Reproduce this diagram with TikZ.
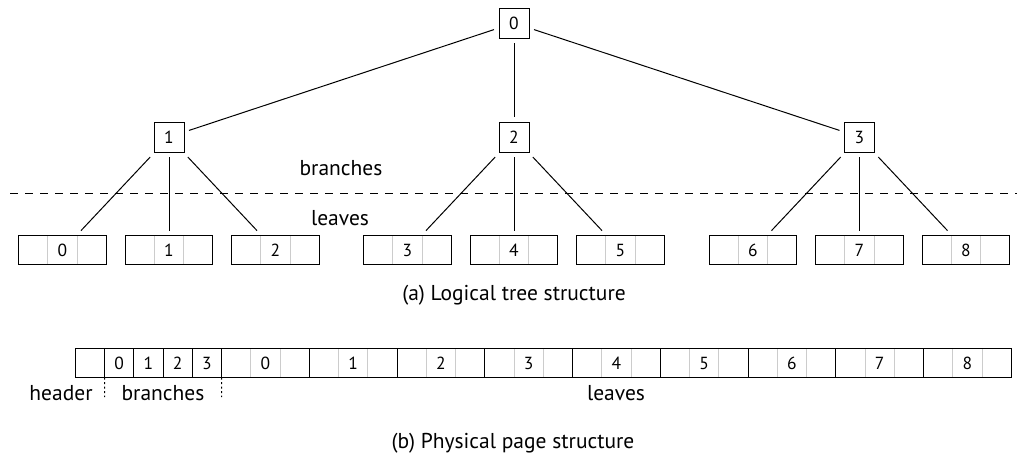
\documentclass[tikz,border=0pt]{standalone}
\usepackage{fontspec}
\setmainfont{PT Sans}
\newcommand{\txtfont}{\fontsize{21.5}{26}\selectfont}
\newcommand{\numfont}{\fontsize{17.5}{21}\selectfont}
\begin{document}
\begin{tikzpicture}[x=1pt,y=-1pt,
  every node/.style={inner sep=0pt},
  edge/.style={line width=1pt},
  bnode/.style={draw, line width=1pt, minimum width=30pt, minimum height=30pt, outer sep=5pt, font=\numfont},
  cell/.style={draw, line width=1pt, minimum width=29.25pt, minimum height=29.3pt, outer sep=0pt, font=\numfont},
  leafbox/.style={draw, line width=1pt, minimum width=87.75pt, minimum height=29.3pt, font=\numfont,
    path picture={\draw[black!20, line width=1pt]
      ([xshift=-14.625pt]path picture bounding box.north) -- ([xshift=-14.625pt]path picture bounding box.south)
      ([xshift=14.625pt]path picture bounding box.north) -- ([xshift=14.625pt]path picture bounding box.south);}},
  tleaf/.style={leafbox, outer sep=5pt},
  pleaf/.style={leafbox, outer sep=0pt},
  lbl/.style={font=\txtfont},
  sep/.style={line width=1pt, dash pattern=on 2pt off 2.5pt}
]
\useasboundingbox (0,0) rectangle (1017,459);

% logical tree
\node[bnode] (r) at (514,23) {0};
\node[bnode] (n1) at (169,137) {1};
\node[bnode] (n2) at (514,137) {2};
\node[bnode] (n3) at (859.5,137) {3};

\foreach \i/\x in {0/62.5,1/169,2/275.5,3/407.5,4/514,5/620.5,6/753,7/859.5,8/966}
  \node[tleaf] (t\i) at (\x,250.3) {\i};

\draw[edge] (r) -- (n1);
\draw[edge] (r) -- (n2);
\draw[edge] (r) -- (n3);
\draw[edge] (n1) -- (t0);
\draw[edge] (n1) -- (t1);
\draw[edge] (n1) -- (t2);
\draw[edge] (n2) -- (t3);
\draw[edge] (n2) -- (t4);
\draw[edge] (n2) -- (t5);
\draw[edge] (n3) -- (t6);
\draw[edge] (n3) -- (t7);
\draw[edge] (n3) -- (t8);

\coordinate (dl) at (10,193.3);
\coordinate (dr) at (1017,193.3);
\draw[line width=1pt, dash pattern=on 8pt off 7pt] (dl) -- (dr);

\node[lbl] (lb) at (341,168) {branches};
\node[lbl] (ll) at (340,218) {leaves};
\node[lbl] (capa) at (514,295) {(a) Logical tree structure};

% physical page
\node[cell] (h) at (89.9,363) {};
\foreach \i/\x in {0/119.2,1/148.4,2/177.7,3/206.9}
  \node[cell] (b\i) at (\x,363) {\i};
\foreach \i in {0,...,8}
  \node[pleaf] (p\i) at ({265.4+87.75*\i},363) {\i};

\coordinate (d1) at (104.55,397);
\coordinate (d2) at (221.55,397);
\draw[sep] (h.south east) -- (d1);
\draw[sep] (b3.south east) -- (d2);

\node[lbl] (lh) at (61,393) {header};
\node[lbl] (lbr) at (163,393) {branches};
\node[lbl] (lle) at (616,393) {leaves};
\node[lbl] (capb) at (513,443) {(b) Physical page structure};
\end{tikzpicture}
\end{document}
